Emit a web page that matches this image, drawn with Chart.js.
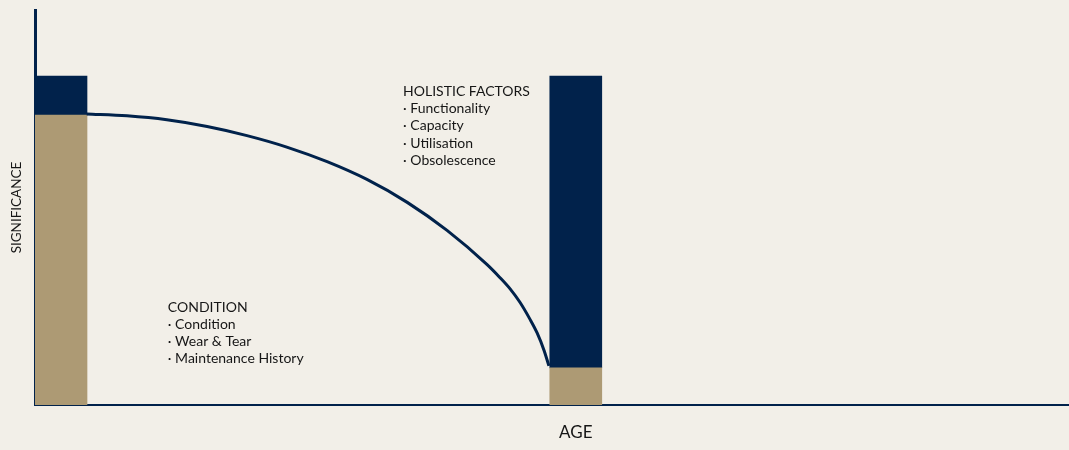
<!DOCTYPE html>
<html>
<head>
<meta charset="utf-8">
<script src="https://cdn.jsdelivr.net/npm/chart.js@4/dist/chart.umd.min.js"></script>
<style>
  html, body { margin: 0; padding: 0; background: #f2efe8; }
</style>
</head>
<body>
<canvas id="chart" width="1069" height="450"></canvas>
<script>
// age positions of the two stacked bars
var barAges = [0.503, 10.46];
var conditionValues = [73.4, 9.4];
var holisticValues = [9.9, 73.9];

// decline curve (age, significance)
var curveAges = [1.0, 1.78, 2.55, 3.33, 4.10, 4.87, 5.65, 6.42, 7.20, 7.97, 8.74, 8.99, 9.19, 9.38, 9.57, 9.71, 9.85, 9.94];
var curveValues = [73.7, 73.2, 72.2, 70.5, 68.2, 65.3, 61.6, 57.1, 51.3, 44.2, 35.6, 32.3, 29.4, 26.0, 21.8, 18.3, 13.7, 9.9];

var xTickLabels = ['AGE'];
var yTitle = 'SIGNIFICANCE';
var holisticNotes = ['HOLISTIC FACTORS', '· Functionality', '· Capacity', '· Utilisation', '· Obsolescence'];
var conditionNotes = ['CONDITION', '· Condition', '· Wear & Tear', '· Maintenance History'];

var navy = '#01224b';
var tan = '#ad9a74';
var font = 'Lato, "Noto Sans", sans-serif';

function points(xs, ys) {
	return xs.map(function(x, i){ return {x: x, y: ys[i]}; });
}

var notesPlugin = {
	id: 'notes',
	afterDraw: function(chart) {
		var ctx = chart.ctx;
		var xs = chart.scales.x, ys = chart.scales.y;
		ctx.save();
		ctx.fillStyle = '#161616';
		ctx.font = '14px ' + font;
		ctx.textBaseline = 'middle';
		ctx.textAlign = 'left';
		// text blocks anchored to the axes
		var hx = xs.getPixelForValue(7.12), hy = ys.getPixelForValue(79.4);
		holisticNotes.forEach(function(t, i){ ctx.fillText(t, hx, hy + i * 17.3); });
		var cx = xs.getPixelForValue(2.57), cy = ys.getPixelForValue(24.8);
		conditionNotes.forEach(function(t, i){ ctx.fillText(t, cx, cy + i * 17.3); });
		// y axis title
		ctx.translate(17, (chart.chartArea.top + chart.chartArea.bottom) / 2);
		ctx.rotate(-Math.PI / 2);
		ctx.textAlign = 'center';
		ctx.font = '13.5px ' + font;
		ctx.fillText(yTitle, 0, 0);
		ctx.restore();
	}
};

var ctx = document.getElementById('chart');
new Chart(ctx, {
	type: 'bar',
	data: {
		datasets: [{
			type: 'line',
			stack: 'curve',
			data: points(curveAges, curveValues),
			borderColor: navy,
			borderWidth: 3,
			pointRadius: 0,
			cubicInterpolationMode: 'monotone',
			fill: false
		}, {
			data: points(barAges, conditionValues),
			backgroundColor: tan,
			barThickness: 52,
			stack: 'bars'
		}, {
			data: points(barAges, holisticValues),
			backgroundColor: navy,
			barThickness: 52,
			stack: 'bars'
		}]
	},
	options: {
		responsive: false,
		animation: false,
		layout: { padding: { top: 10, right: 0, left: 0, bottom: 0 } },
		plugins: {
			legend: { display: false },
			tooltip: { enabled: false }
		},
		scales: {
			x: {
				type: 'linear',
				min: 0,
				max: 20,
				offset: false,
				stacked: true,
				grid: { display: false, drawTicks: false },
				border: { display: true, color: navy, width: 2 },
				afterBuildTicks: function(scale){ scale.ticks = [{value: barAges[1]}]; },
				afterFit: function(scale){ scale.height = 45; },
				ticks: {
					padding: 17,
					color: '#161616',
					font: { family: font, size: 17 },
					callback: function(v, i){ return xTickLabels[i]; }
				}
			},
			y: {
				min: 0,
				max: 100,
				stacked: true,
				grid: { display: false, drawTicks: false },
				border: { display: true, color: navy, width: 3 },
				ticks: { display: false },
				afterFit: function(scale){ scale.width = 35; }
			}
		}
	},
	plugins: [notesPlugin]
});
</script>
</body>
</html>
